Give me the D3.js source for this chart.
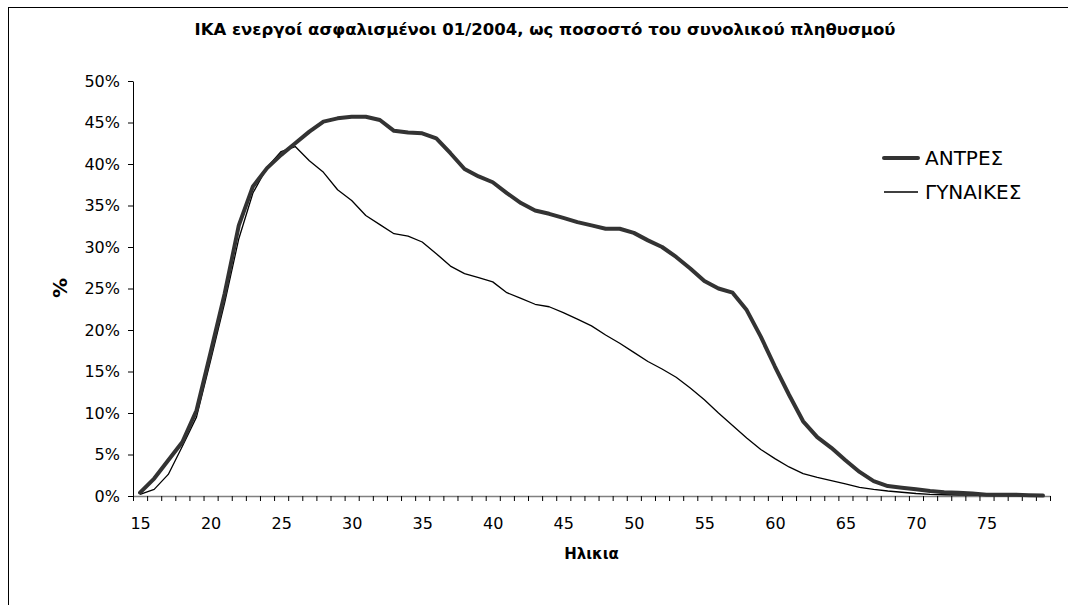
<!DOCTYPE html>
<html>
<head>
<meta charset="utf-8">
<script src="https://cdn.jsdelivr.net/npm/d3@7"></script>
<style>
	body { margin: 0; background: #fff; }
	svg { display: block; font-family: "DejaVu Sans", Verdana, sans-serif; }
</style>
</head>
<body>
<svg id="chart"></svg>
<script>
const width = 1068, height = 605;

// ages 15..79, one point per year of age
const ages = d3.range(15, 80);

// % of population insured, men (ΑΝΤΡΕΣ)
const men = [
	0.4, 2.1, 4.3, 6.5, 10.3, 17.3, 24.4, 32.6, 37.3, 39.5,
	41.1, 42.5, 43.9, 45.1, 45.5, 45.7, 45.7, 45.3, 44.0, 43.8,
	43.7, 43.1, 41.3, 39.4, 38.5, 37.8, 36.5, 35.3, 34.4, 34.0,
	33.5, 33.0, 32.6, 32.2, 32.2, 31.7, 30.8, 30.0, 28.8, 27.4,
	25.9, 25.0, 24.5, 22.4, 19.2, 15.6, 12.2, 9.0, 7.1, 5.8,
	4.3, 2.9, 1.8, 1.2, 1.0, 0.8, 0.6, 0.45, 0.4, 0.3,
	0.15, 0.15, 0.15, 0.1, 0.05
];

// women (ΓΥΝΑΙΚΕΣ)
const women = [
	0.2, 0.8, 2.6, 6.0, 9.5, 16.3, 23.3, 31.0, 36.5, 39.6,
	41.5, 42.1, 40.4, 39.0, 36.9, 35.6, 33.8, 32.7, 31.6, 31.3,
	30.6, 29.2, 27.7, 26.8, 26.3, 25.8, 24.5, 23.8, 23.1, 22.8,
	22.1, 21.3, 20.5, 19.4, 18.4, 17.3, 16.2, 15.3, 14.3, 13.0,
	11.6, 10.0, 8.5, 7.0, 5.6, 4.5, 3.5, 2.7, 2.25, 1.85,
	1.45, 1.05, 0.8, 0.6, 0.45, 0.3, 0.2, 0.15, 0.12, 0.1,
	0.08, 0.06, 0.05, 0.04, 0.03
];

const yTicks = d3.range(0, 51, 5);
const xLabelTicks = d3.range(15, 80, 5);

const titleText = 'ΙΚΑ ενεργοί ασφαλισμένοι 01/2004, ως ποσοστό του συνολικού πληθυσμού';
const xTitle = 'Ηλικια';
const yTitle = '%';
const seriesNames = ['ΑΝΤΡΕΣ', 'ΓΥΝΑΙΚΕΣ'];

const plot = { left: 133, right: 1050, top: 81, bottom: 496 };
const font = '"DejaVu Sans", Verdana, sans-serif';

const svg = d3.select('#chart').attr('width', width).attr('height', height);

// outer chart frame (runs past the right / bottom edges of the window)
svg.append('rect')
	.attr('x', 8.5).attr('y', 7.5)
	.attr('width', 1200).attr('height', 800)
	.attr('fill', 'none')
	.attr('stroke', '#000');

const x = d3.scaleLinear().domain([14.5, 79.5]).range([plot.left, plot.right]);
const y = d3.scaleLinear().domain([0, 50]).range([plot.bottom, plot.top]);

// title
svg.append('text')
	.attr('x', 545).attr('y', 35)
	.attr('text-anchor', 'middle')
	.attr('font-weight', 'bold')
	.attr('font-size', 16.5)
	.text(titleText);

// y axis
const yAxis = svg.append('g')
	.attr('transform', `translate(${plot.left},0)`)
	.call(d3.axisLeft(y).tickValues(yTicks).tickSize(5).tickSizeOuter(0).tickPadding(8).tickFormat(d => d + '%'))
	.attr('font-family', font)
	.attr('font-size', 16);
yAxis.selectAll('text').attr('fill', '#000');
yAxis.select('.domain').attr('stroke', '#000');

// x axis: tick marks on category boundaries
const xTicksG = svg.append('g')
	.attr('transform', `translate(0,${plot.bottom})`)
	.call(d3.axisBottom(x).tickValues(d3.range(14.5, 80, 1)).tickSize(5).tickSizeOuter(0).tickFormat(''));
xTicksG.select('.domain').attr('stroke', '#808080').attr('stroke-width', 1.6);

// x axis labels every 5 years
const xLabels = svg.append('g')
	.attr('transform', `translate(0,${plot.bottom})`)
	.call(d3.axisBottom(x).tickValues(xLabelTicks).tickSize(0).tickPadding(22))
	.attr('font-family', font)
	.attr('font-size', 16);
xLabels.select('.domain').remove();
xLabels.selectAll('text').attr('fill', '#000');

// axis titles
svg.append('text')
	.attr('x', (plot.left + plot.right) / 2).attr('y', 559)
	.attr('text-anchor', 'middle')
	.attr('font-weight', 'bold')
	.attr('font-size', 15)
	.text(xTitle);

svg.append('text')
	.attr('transform', 'translate(67,288) rotate(-90)')
	.attr('text-anchor', 'middle')
	.attr('font-weight', 'bold')
	.attr('font-size', 20)
	.text(yTitle);

// lines
const line = d3.line()
	.x((d, i) => x(ages[i]))
	.y(d => y(d));

const styles = [
	{ stroke: '#333', width: 4 },
	{ stroke: '#000', width: 1.3 }
];

svg.append('path')
	.datum(women)
	.attr('d', line)
	.attr('fill', 'none')
	.attr('stroke', styles[1].stroke)
	.attr('stroke-width', styles[1].width)
	.attr('stroke-linejoin', 'round');

svg.append('path')
	.datum(men)
	.attr('d', line)
	.attr('fill', 'none')
	.attr('stroke', styles[0].stroke)
	.attr('stroke-width', styles[0].width)
	.attr('stroke-linejoin', 'round')
	.attr('stroke-linecap', 'round');

// legend
const legend = svg.append('g').attr('transform', 'translate(884,158)');
seriesNames.forEach((name, i) => {
	const g = legend.append('g').attr('transform', `translate(0,${i * 34})`);
	g.append('line')
		.attr('x1', 0).attr('x2', 34)
		.attr('stroke', styles[i].stroke)
		.attr('stroke-width', styles[i].width)
		.attr('stroke-linecap', i === 0 ? 'round' : 'butt');
	g.append('text')
		.attr('x', 41).attr('y', 7)
		.attr('font-size', 20)
		.text(name);
});
</script>
</body>
</html>
